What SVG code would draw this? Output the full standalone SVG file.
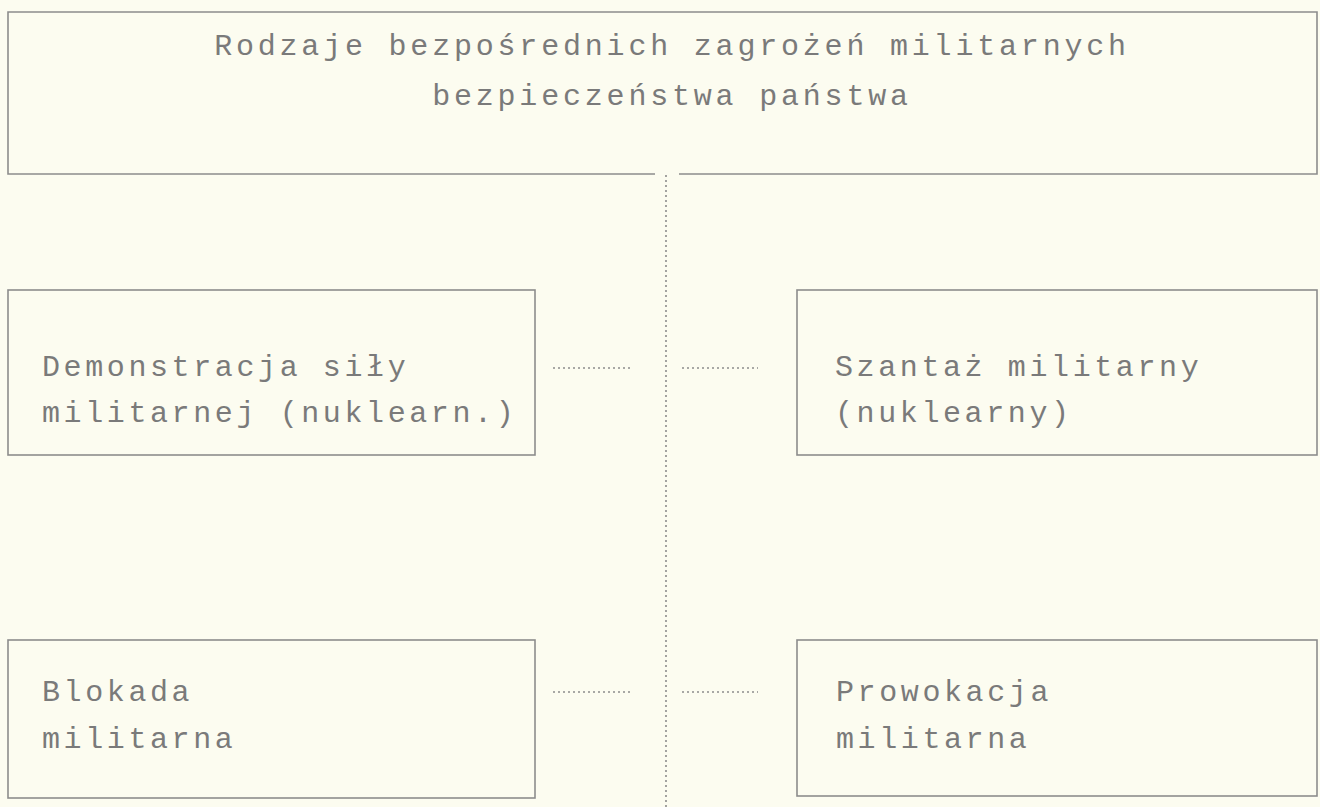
<svg xmlns="http://www.w3.org/2000/svg" width="1320" height="807" viewBox="0 0 1320 807">
<style>
.box{fill:none;stroke:#8c8c8c;stroke-width:1.6}
.t{font-family:"Liberation Mono","DejaVu Sans Mono",monospace;font-size:30px;fill:#7a7a7a;letter-spacing:3.6px}
.tc{text-anchor:middle;letter-spacing:3.8px}
.dot{fill:none;stroke:#8c8c8c;stroke-width:1.6;stroke-dasharray:2 3}
</style>
<rect width="1320" height="807" fill="#fcfcf0"/>
<g id="title">
<path class="box" d="M655,174 L8,174 L8,12 L1317,12 L1317,174 L679,174"/>
<text class="t tc" x="672" y="55">Rodzaje bezpośrednich zagrożeń militarnych</text>
<text class="t tc" x="672" y="105">bezpieczeństwa państwa</text>
</g>
<g id="demonstracja">
<rect class="box" x="8" y="290" width="527" height="165"/>
<text class="t" x="42" y="376">Demonstracja siły</text>
<text class="t" x="42" y="422">militarnej (nuklearn.)</text>
</g>
<g id="szantaz">
<rect class="box" x="797" y="290" width="520" height="165"/>
<text class="t" x="835" y="376">Szantaż militarny</text>
<text class="t" x="835" y="422">(nuklearny)</text>
</g>
<g id="blokada">
<rect class="box" x="8" y="640" width="527" height="158"/>
<text class="t" x="42" y="701">Blokada</text>
<text class="t" x="42" y="748">militarna</text>
</g>
<g id="prowokacja">
<rect class="box" x="797" y="640" width="520" height="156"/>
<text class="t" x="836" y="701">Prowokacja</text>
<text class="t" x="836" y="748">militarna</text>
</g>
<g id="connectors">
<line class="dot" x1="666" y1="175" x2="666" y2="807"/>
<line class="dot" x1="553" y1="368" x2="630" y2="368"/>
<line class="dot" x1="682" y1="368" x2="758" y2="368"/>
<line class="dot" x1="553" y1="692" x2="630" y2="692"/>
<line class="dot" x1="682" y1="692" x2="758" y2="692"/>
</g>
</svg>
